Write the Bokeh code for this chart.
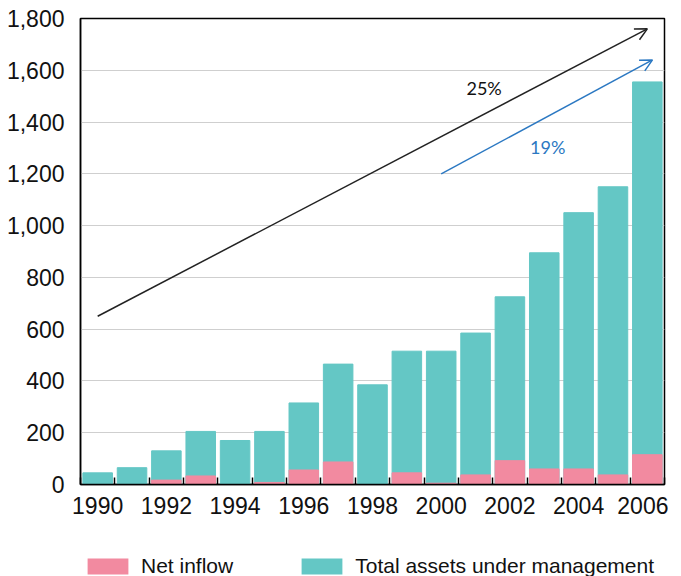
from bokeh.plotting import figure
from bokeh.layouts import column
from bokeh.models import (FixedTicker, NumeralTickFormatter, Range1d, Legend, LegendItem,
                          Arrow, OpenHead, ColumnDataSource, Label)
from bokeh.embed import file_html
from bokeh.resources import INLINE

years = list(range(1990, 2007))
total_assets = [45, 65, 130, 205, 170, 205, 315, 465, 385, 515, 515, 585, 725, 895, 1050, 1150, 1555]
net_inflow = [0, 0, 17, 33, 0, 8, 56, 87, 0, 45, 5, 37, 92, 60, 60, 37, 115]
year_labels = [1990, 1992, 1994, 1996, 1998, 2000, 2002, 2004, 2006]
y_ticks = [0, 200, 400, 600, 800, 1000, 1200, 1400, 1600, 1800]
series_names = ["Net inflow", "Total assets under management"]

# trend arrows: (x_start, y_start, x_end, y_end), label, label position
trend_black = [1990.0, 650, 2006.0, 1760]
trend_blue = [2000.0, 1200, 2006.15, 1640]
label_black = ("25%", 2001.25, 1530)
label_blue = ("19%", 2003.1, 1305)

TEAL = "#64C7C5"
PINK = "#F28AA0"
FONT = "Liberation Sans"

src = ColumnDataSource(dict(year=years, total=total_assets, inflow=net_inflow))

p = figure(width=668, height=530, output_backend="svg", toolbar_location=None,
           x_range=Range1d(1989.5, 2006.5), y_range=Range1d(0, 1800),
           min_border_left=80, min_border_right=4, min_border_top=18, min_border_bottom=46)

r_total = p.vbar(x="year", top="total", width=0.86, color=TEAL, source=src)
r_inflow = p.vbar(x="year", top="inflow", width=0.86, color=PINK, source=src)

p.outline_line_color = "black"
p.outline_line_width = 1.5
p.background_fill_color = "white"
p.border_fill_color = "white"

p.xgrid.visible = False
p.ygrid.grid_line_color = "#cfcfcf"
p.ygrid.grid_line_width = 1.2
p.ygrid.ticker = FixedTicker(ticks=y_ticks)

p.yaxis.ticker = FixedTicker(ticks=y_ticks)
p.yaxis.formatter = NumeralTickFormatter(format="0,0")
p.yaxis.major_tick_line_color = None
p.yaxis.minor_tick_line_color = None
p.yaxis.axis_line_color = "black"
p.yaxis.axis_line_width = 1.5
p.yaxis.major_label_text_font = FONT
p.yaxis.major_label_text_font_size = "23px"
p.yaxis.major_label_text_color = "#111111"
p.yaxis.major_label_standoff = 10

boundaries = [y - 0.5 for y in years] + [years[-1] + 0.5]
p.xaxis.ticker = FixedTicker(ticks=year_labels, minor_ticks=boundaries)
p.xaxis.major_tick_line_color = None
p.xaxis.minor_tick_in = 7
p.xaxis.minor_tick_out = 0
p.xaxis.minor_tick_line_color = "black"
p.xaxis.minor_tick_line_width = 1.5
p.xaxis.axis_line_color = "black"
p.xaxis.axis_line_width = 1.5
p.xaxis.major_label_text_font = FONT
p.xaxis.major_label_text_font_size = "23px"
p.xaxis.major_label_text_color = "#111111"
p.xaxis.major_label_standoff = 6

p.add_layout(Arrow(end=OpenHead(size=12, line_color="#222222", line_width=1.5),
                   x_start=trend_black[0], y_start=trend_black[1],
                   x_end=trend_black[2], y_end=trend_black[3],
                   line_color="#222222", line_width=1.5))
p.add_layout(Arrow(end=OpenHead(size=12, line_color="#2B78C2", line_width=1.5),
                   x_start=trend_blue[0], y_start=trend_blue[1],
                   x_end=trend_blue[2], y_end=trend_blue[3],
                   line_color="#2B78C2", line_width=1.5))
p.add_layout(Label(x=label_black[1], y=label_black[2], text=label_black[0],
                   text_font="Lato", text_font_size="18px", text_color="#111111",
                   text_align="center", text_baseline="middle"))
p.add_layout(Label(x=label_blue[1], y=label_blue[2], text=label_blue[0],
                   text_font="Lato", text_font_size="18px", text_color="#2B78C2",
                   text_align="center", text_baseline="middle"))

# legend strip below the chart (its zero-width bars lie outside its own ranges; only swatches show)
lg = figure(width=668, height=50, output_backend="svg", toolbar_location=None,
            x_range=Range1d(2007.5, 2008.5), y_range=Range1d(5000, 6000),
            x_axis_type=None, y_axis_type=None,
            min_border_left=0, min_border_right=0, min_border_top=0, min_border_bottom=0)
lg.outline_line_color = None
lg.xgrid.visible = False
lg.ygrid.visible = False
k_inflow = lg.vbar(x="year", top="inflow", width=0, fill_color=PINK, line_color=None, source=src)
k_total = lg.vbar(x="year", top="total", width=0, fill_color=TEAL, line_color=None, source=src)

legend = Legend(items=[LegendItem(label=series_names[0], renderers=[k_inflow], index=0),
                       LegendItem(label=series_names[1], renderers=[k_total], index=0)],
                location=(2, 2), orientation="horizontal",
                glyph_width=51, glyph_height=20, label_standoff=8, spacing=63,
                padding=0, margin=0, border_line_color=None, background_fill_alpha=0,
                label_text_font=FONT, label_text_font_size="21px",
                label_text_color="#111111")
lg.add_layout(legend, "center")

layout = column(p, lg, spacing=0)
open("out.html", "w").write(file_html(layout, INLINE))
